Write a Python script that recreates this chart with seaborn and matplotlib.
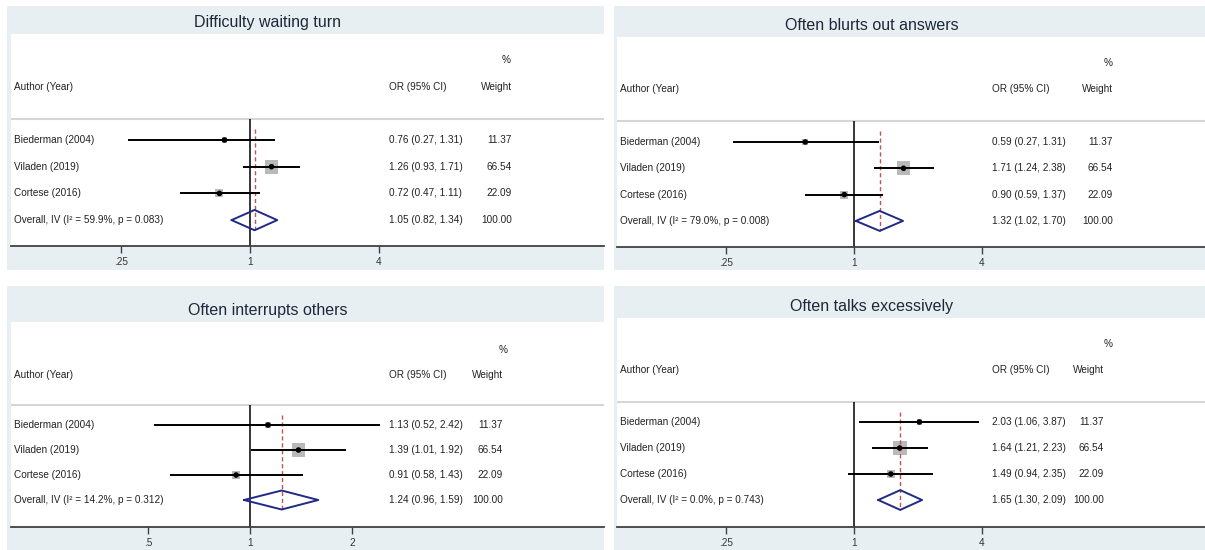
import pandas as pd
import matplotlib
matplotlib.use('Agg')
import matplotlib.pyplot as plt
from matplotlib.ticker import NullLocator
import seaborn as sns

# Data
studies = ['Biederman (2004)', 'Viladen (2019)', 'Cortese (2016)']
weights = [11.37, 66.54, 22.09]

titles = ['Difficulty waiting turn', 'Often blurts out answers',
          'Often interrupts others', 'Often talks excessively']

or_est = [[0.76, 1.26, 0.72], [0.59, 1.71, 0.90], [1.13, 1.39, 0.91], [2.03, 1.64, 1.49]]
or_lo = [[0.27, 0.93, 0.47], [0.27, 1.24, 0.59], [0.52, 1.01, 0.58], [1.06, 1.21, 0.94]]
or_hi = [[1.31, 1.71, 1.11], [1.31, 2.38, 1.37], [2.42, 1.92, 1.43], [3.87, 2.23, 2.35]]

pooled_est = [1.05, 1.32, 1.24, 1.65]
pooled_lo = [0.82, 1.02, 0.96, 1.30]
pooled_hi = [1.34, 1.70, 1.59, 2.09]
i_squared = ['59.9', '79.0', '14.2', '0.0']
p_values = ['0.083', '0.008', '0.312', '0.743']

xtick_vals = [[0.25, 1, 4], [0.25, 1, 4], [0.5, 1, 2], [0.25, 1, 4]]
xtick_labels = [['.25', '1', '4'], ['.25', '1', '4'], ['.5', '1', '2'], ['.25', '1', '4']]

# layout of each panel in pixels (figure is 1205 x 550)
W, H = 1205, 550
panels = [
    dict(box=(7, 6, 604, 270), white=(11, 34, 604, 246), title_xy=(268, 22),
         r1=140, step=26.7, one_x=250, ppd=64.5, or_x=389, pct_x=511, wt_x=512),
    dict(box=(614, 6, 1205, 270), white=(617, 37, 1205, 247), title_xy=(872, 25),
         r1=142, step=26.3, one_x=854, ppd=64.0, or_x=992, pct_x=1113, wt_x=1113),
    dict(box=(7, 286, 604, 550), white=(11, 322, 604, 527), title_xy=(268, 310),
         r1=425, step=25.0, one_x=250, ppd=102.0, or_x=389, pct_x=508, wt_x=503),
    dict(box=(614, 286, 1205, 550), white=(617, 318, 1205, 527), title_xy=(872, 306),
         r1=422, step=26.0, one_x=854, ppd=64.0, or_x=992, pct_x=1113, wt_x=1104),
]

bg_col = '#e8eff2'
title_col = '#1d2939'
text_col = '#222222'
diamond_col = '#1f2a85'
ref_col = '#bd5558'
box_col = '#b9b9b9'

sns.set_theme(style='white')
plt.rcParams['font.family'] = ['Liberation Sans', 'DejaVu Sans']


def rect(x0, y0, x1, y1):
    return [x0 / W, 1 - y1 / H, (x1 - x0) / W, (y1 - y0) / H]


fig = plt.figure(figsize=(W / 100, H / 100), dpi=100)

for i, lay in enumerate(panels):
    # grey panel background + title
    bg = fig.add_axes(rect(*lay['box']), zorder=0)
    bg.set_facecolor(bg_col)
    bg.set_xticks([])
    bg.set_yticks([])
    for s in bg.spines.values():
        s.set_visible(False)
    fig.text(lay['title_xy'][0] / W, 1 - lay['title_xy'][1] / H, titles[i],
             ha='center', va='center', fontsize=11.5, color=title_col)

    wx0, wy0, wx1, wy1 = lay['white']
    ax = fig.add_axes(rect(wx0, wy0, wx1, wy1), zorder=1)
    ax.set_facecolor('white')

    # y in "row" units, inverted
    y_bot = 1 + (wy1 - lay['r1']) / lay['step']
    y_top = 1 - (lay['r1'] - wy0) / lay['step']
    ax.set_ylim(y_bot, y_top)

    ax.set_xscale('log', base=2)
    ax.set_xlim(2 ** (-(lay['one_x'] - wx0) / lay['ppd']), 2 ** ((wx1 - lay['one_x']) / lay['ppd']))

    df = pd.DataFrame({'study': studies, 'est': or_est[i], 'lo': or_lo[i],
                       'hi': or_hi[i], 'weight': weights, 'row': [1, 2, 3]})

    sep = 0.22
    ax.axhline(sep, color='#d6d6d6', lw=1.5, zorder=1)
    ax.vlines(1, sep, y_bot, color='black', lw=1.1, zorder=2)

    # weight boxes, CI lines, point estimates
    sns.scatterplot(data=df, x='est', y='row', size='weight',
                    sizes=(min(weights) * 1.5, max(weights) * 1.5),
                    marker='s', color=box_col, edgecolor='none', legend=False,
                    ax=ax, zorder=3)
    ax.hlines(df['row'], df['lo'], df['hi'], color='black', lw=1.4, zorder=4)
    sns.scatterplot(data=df, x='est', y='row', color='black', s=16,
                    edgecolor='none', legend=False, ax=ax, zorder=5)

    # pooled estimate
    ax.vlines(pooled_est[i], 0.6, 4.38, color=ref_col, lw=1.0,
              linestyles=(0, (3, 2)), zorder=3)
    h = 0.38
    ax.plot([pooled_lo[i], pooled_est[i], pooled_hi[i], pooled_est[i], pooled_lo[i]],
            [4, 4 - h, 4, 4 + h, 4], color=diamond_col, lw=1.4, zorder=6)

    # text columns
    tr = ax.get_yaxis_transform()
    fx = lambda px: (px - wx0) / (wx1 - wx0)
    fs = 7.2
    ax.text(fx(wx0 + 3), -1, 'Author (Year)', transform=tr, ha='left', va='center', fontsize=fs, color=text_col)
    ax.text(fx(lay['or_x']), -1, 'OR (95% CI)', transform=tr, ha='left', va='center', fontsize=fs, color=text_col)
    ax.text(fx(lay['pct_x']), -2, '%', transform=tr, ha='right', va='center', fontsize=fs, color=text_col)
    ax.text(fx(lay['wt_x']), -1, 'Weight', transform=tr, ha='right', va='center', fontsize=fs, color=text_col)
    for _, r in df.iterrows():
        ax.text(fx(wx0 + 3), r['row'], r['study'], transform=tr, ha='left', va='center', fontsize=fs, color=text_col)
        ax.text(fx(lay['or_x']), r['row'], f"{r['est']:.2f} ({r['lo']:.2f}, {r['hi']:.2f})",
                transform=tr, ha='left', va='center', fontsize=fs, color=text_col)
        ax.text(fx(lay['wt_x']), r['row'], f"{r['weight']:.2f}", transform=tr,
                ha='right', va='center', fontsize=fs, color=text_col)
    ax.text(fx(wx0 + 3), 4, f"Overall, IV (I\u00b2 = {i_squared[i]}%, p = {p_values[i]})",
            transform=tr, ha='left', va='center', fontsize=fs, color=text_col)
    ax.text(fx(lay['or_x']), 4, f"{pooled_est[i]:.2f} ({pooled_lo[i]:.2f}, {pooled_hi[i]:.2f})",
            transform=tr, ha='left', va='center', fontsize=fs, color=text_col)
    ax.text(fx(lay['wt_x']), 4, '100.00', transform=tr, ha='right', va='center', fontsize=fs, color=text_col)

    # axes styling
    for k in ['top', 'left', 'right']:
        ax.spines[k].set_visible(False)
    ax.spines['bottom'].set_color('#404040')
    ax.spines['bottom'].set_linewidth(1.3)
    ax.set_yticks([])
    ax.set_xticks(xtick_vals[i])
    ax.set_xticklabels(xtick_labels[i])
    ax.xaxis.set_minor_locator(NullLocator())
    ax.tick_params(axis='x', bottom=True, direction='out', length=5, width=1,
                   color='#404040', labelsize=7.2, labelcolor='#333333', pad=3)
    ax.set_xlabel('')
    ax.set_ylabel('')

fig.savefig('out.png', dpi=100, facecolor='white')
